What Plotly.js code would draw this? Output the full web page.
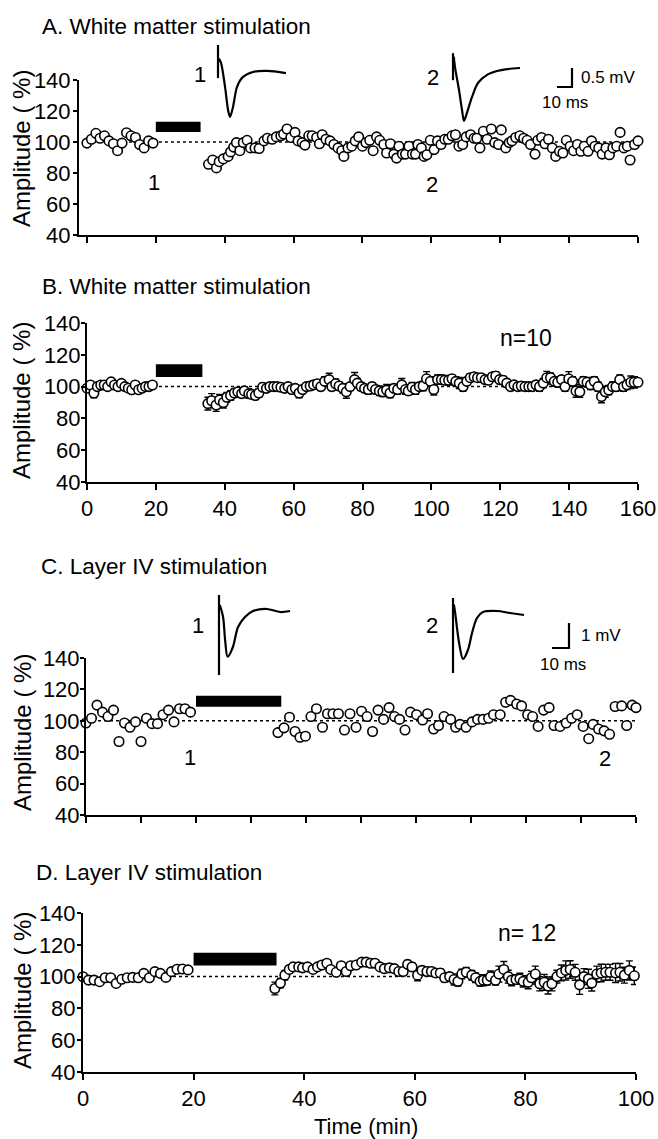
<!DOCTYPE html>
<html><head><meta charset="utf-8">
<script src="https://cdn.plot.ly/plotly-3.0.1.min.js"></script>
<style>html,body{margin:0;padding:0;background:#fff}#chart{width:658px;height:1139px}</style>
</head><body><div id="chart"></div>
<script>
// ---------- DATA ----------
// Panel A (single cell, white matter stimulation)
const aTime = [0,1.3,2.6,3.8,5.1,6.4,7.7,8.9,10.2,11.5,12.8,14.1,15.3,16.6,17.9,19.2,
35.3,36.5,37.6,38.4,39.6,41.0,41.7,42.6,43.4,44.4,
45.4,46.5,47.5,48.8,50.0,51.4,52.4,53.8,55.0,56.3,
57.1,58.1,59.2,60.4,61.3,62.5,63.3,64.4,65.4,66.7,
67.5,68.3,69.4,70.6,71.7,72.9,74.0,74.6,75.8,76.9,
77.9,78.9,80.0,81.0,82.1,83.1,84.1,85.0,86.2,87.0,
88.1,89.1,89.9,90.6,91.6,92.5,93.5,94.5,95.4,96.1,
97.1,97.9,98.7,99.7,100.8,101.8,102.8,103.9,104.9,106.0,
107.0,108.0,109.1,110.1,111.4,112.4,113.2,114.1,115.1,116.2,
117.4,118.4,119.5,120.3,121.6,122.6,123.4,124.5,125.7,126.8,
127.8,128.8,130.1,130.9,132.0,133.0,134.0,135.1,136.1,137.2,
138.2,139.2,140.3,141.3,142.4,143.4,144.4,145.5,146.5,147.5,
148.6,149.6,150.7,151.7,152.7,153.8,154.8,155.9,156.9,157.7,
159.0,160.0];
const aAmp = [99.3,101.8,105.6,102.4,104,100.7,98.9,94.4,99.3,106,104,102.9,98.4,96.2,100.7,99.3,
85.6,88.4,83.3,87.3,89.1,90.7,93.6,96.7,99.6,94.4,
99.6,101.1,96.2,96.2,95.8,100.7,102.4,101.8,103.3,104,
105.1,108.4,102.9,106.2,100.7,99.6,98,104,104,102.9,
98.9,104.7,101.8,100.7,98.4,96.2,94.4,90.7,96.2,97.3,
100.7,103.3,97.3,99.6,101.1,94.4,103.3,101.1,98.4,92.9,
98.9,92.2,89.6,97.3,92.2,92.2,97.3,92.2,92.2,98.4,
96.2,90.7,91.8,101.1,95.1,100.7,98.4,101.8,101.8,104,
104.7,97.3,98.4,103.3,104.7,102.4,102.4,96.2,106.9,101.8,
108.4,99.6,98.4,107.8,96.2,99.6,100.7,102.9,104,102.4,
101.1,98.4,92.2,101.1,102.9,98.9,101.8,96.2,90.7,94,
92.9,101.1,97.3,94.4,98.4,94,97.3,94,100.7,97.3,
96.2,92.2,96.2,91.8,96.2,97.3,106.2,96.2,97.3,88.4,
98.4,100.7];

// Panel B (mean +- SEM, n=10)
const bTime = [0,1,2,3,4,5,6,7,8,9,10,11,12,13,14,15,16,17,18,19,
35.1,36.2,37.5,38.5,39.6,40.6,41.7,42.8,43.8,44.9,
45.7,47.0,47.8,48.9,49.9,51.0,52.1,53.1,54.2,55.2,
56.3,57.4,58.4,59.5,60.5,61.6,62.6,63.7,64.8,65.8,
66.9,67.9,69.0,70.3,71.1,72.2,73.2,74.3,75.3,76.4,
77.7,78.5,79.6,80.6,81.7,82.8,83.8,84.9,85.9,87.0,
88.0,89.1,90.2,91.4,92.5,93.3,94.4,95.4,96.5,97.6,
98.6,99.7,100.7,101.8,102.9,103.9,105.0,106.0,107.1,108.1,
109.2,110.3,111.3,112.4,113.4,114.5,115.6,116.6,117.7,118.7,
119.8,120.8,121.9,123.0,124.0,125.1,126.1,127.2,128.3,129.3,
130.4,131.4,132.5,133.5,134.6,135.7,136.7,137.8,138.8,139.9,
141.0,142.0,143.1,144.1,145.2,146.2,147.3,148.4,149.4,150.5,
151.5,152.6,153.6,154.7,155.8,156.8,157.9,158.9,160.0];
const bAmp = [99,101,96,100,101,101,100,103,101,100,102,100,99,98,101,98,99,100,100,101,
89.3,91.1,88.4,91.6,90,93.3,94.4,96,96.7,95.6,
97.3,95.6,95.1,94.4,96,99.6,98.9,100,100,100,
99.6,98.9,100,98.2,98.9,96,98.2,100,100.4,101.1,
101.8,100,103.3,104.4,100,101.8,100.4,98.9,96.7,100,
104.4,102.2,100,98.9,98.2,100,98.2,97.3,96.7,97.8,
96,98.9,98.2,101.1,98.2,97.3,99.6,98.2,100,100.4,
104.9,103.3,98.2,104.4,104.4,104,104,104.9,103.3,102.2,
100,103.3,105.6,106.2,105.6,105.6,104.4,104,106.2,106.7,
104.4,104,102.2,100,101.1,100,100.4,100,100,100,
101.1,100,102.2,105.6,105.6,103.3,102.7,104.4,100,104.9,
103.3,97.3,96.7,103.3,102.7,101.1,103.3,100,93.8,96.7,
97.8,100,100,104.4,100,101.1,102.7,102.7,102.7];
const bErr = [1.5,1.5,3,1.5,1.5,1.5,1.5,1.5,1.5,1.5,1.5,1.5,1.5,1.5,1.5,1.5,1.5,1.5,1.5,1.5,
4,4.5,4,3.5,3.5,3,3,2.5,2.5,2.5,
2.5,3,2.5,2.5,2.5,2.5,2,2,2,2,
2,2,2,2.5,2,3,2.5,2,2,2.5,
2.5,2.5,3,4,2.5,3,2.5,3,4,2.5,
4.5,3,2.5,2.5,3,2.5,2.5,3,3,3.5,
3,2.5,3,4,3,2.5,3,3,2.5,3,
4.5,3,3.5,3,3,2.5,3,2.5,3,3.5,
3,2.5,2.5,2,2,2,2.5,2,2,2.5,
2.5,2.5,2.5,2.5,2,2,2,2,2,2.5,
2.5,3,3,4,3,3,3,2.5,3,4.5,
3,4,3.5,3,3,3,3,3,4,3.5,
3,3,3,3,3,3,4,3.5,3.5];

// Panel C (single cell, layer IV stimulation)
const cTime = [0,1,2,3,4,5,6,7,8,9,10,11,12,13,14,15,16,17,18,19,
34.9,36.0,37.0,38.0,38.9,39.9,40.9,41.9,43.0,43.9,
44.9,45.9,47.0,48.0,49.1,50.1,51.1,52.1,53.1,54.1,
55.1,56.1,57.0,58.0,59.0,60.1,61.2,62.1,63.2,64.1,
65.1,66.3,67.2,68.0,69.1,70.2,71.2,72.2,73.2,74.1,
75.3,76.3,77.2,78.3,79.2,80.3,81.2,82.2,83.2,84.2,
85.1,86.2,87.3,88.3,89.3,90.4,91.4,92.2,93.2,94.2,
95.2,96.2,97.4,98.3,99.3,100];
const cAmp = [98.6,101.6,110,105.5,102.7,106.8,86.8,98.6,95.9,99.3,86.8,101.6,98.2,98.2,103.9,106.8,99.3,107.7,107.7,105.5,
92.5,95.5,102.3,93.2,89.5,90.2,102.7,107.7,95.9,104.5,
104.5,104.5,94.1,104.5,95.9,106.1,102.7,93.2,106.8,100.9,
108.4,102.7,100.9,94.1,105.5,103.9,100.5,104.5,94.8,97,
102.7,100.9,95.9,97.7,95.9,99.3,100.9,100.9,101.6,103.9,
103.9,111.8,113,110.7,109.5,103.9,102.7,96.4,106.8,108.4,
97,96.4,98.6,101.6,103.9,96.4,88.6,97.7,94.8,93.6,
91.4,109.1,109.5,97,110,108.4];

// Panel D (mean +- SEM, n=12)
const dTime = [0,1,2,3,4,5,6,7,8,9,10,11,12,13,14,15,16,17,18,19,
34.7,35.7,36.5,37.3,38.0,39.0,39.7,40.6,41.6,42.4,
43.2,44.1,44.8,45.8,46.7,47.6,48.4,49.4,50.4,51.2,
52.0,52.8,53.7,54.5,55.4,56.3,57.1,57.9,58.7,59.5,
60.5,61.3,62.2,63.0,63.8,64.6,65.4,66.3,67.1,67.8,
68.5,69.3,70.3,71.0,71.8,72.4,73.1,73.7,74.6,75.2,
76.1,76.9,77.5,78.3,79.0,79.6,80.5,81.1,81.8,82.6,
83.4,84.1,84.8,85.7,86.5,87.3,88.1,89.0,89.8,90.6,
91.4,92.0,92.9,93.7,94.5,95.3,96.3,97.1,97.9,98.8,
99.7];
const dAmp = [99.9,97.8,97.8,96.8,99.3,99.3,95.7,98.3,99.3,99.5,99.3,102,99.3,103.1,102,99.5,103.1,104.6,104.8,104.2,
92.5,95.9,100.9,104.5,106.1,106.1,105.5,106.1,104.5,106.1,
107.3,108.4,104.5,102.7,106.8,103.2,106.8,107.3,109.1,109.1,
108.4,108.4,106.1,105,105.5,105,103.2,103.2,107.7,106.1,
100.9,103.9,103.2,103.2,102.3,102.3,99.3,100,98.2,97,
101.6,102.7,100.9,99.3,97,97.7,97.7,100,97.7,101.6,
104.5,100,97.7,98.2,98.6,97,96.4,99.3,101.6,95.5,
96.4,94.1,95.5,100,102.3,103.9,104.5,102.7,94.8,100,
98.6,95.9,101.6,102.3,102.7,102.7,102.3,102.7,100.9,103.9,
100.5];
const dErr = [1.5,1.5,1.5,1.5,1.5,1.5,1.5,1.5,1.5,1.5,1.5,1.5,1.5,1.5,1.5,2,1.5,1.5,1.5,1.5,
4,3,3,2.5,2,2,2,2,2,2,
2,2,2,2,2,2,2,2,2,2,
2,2,2,2.5,2.5,2.5,2,2,2.5,2.5,
3.5,2.5,2.5,2.5,2.5,2.5,2.5,2.5,3.5,3,
3,3,3,3,3,3.5,3,3.5,3,5,
5,4,3.5,3,3.5,3.5,4,4,5,4.5,
5,5,4.5,4,5,6,5.5,5,6,5,
6,5,5,5.5,5,5,6,5.5,5,6,
5.5];

// Drug application bars [start, end] (min) and their vertical extent (%)
const drugA = [20, 33], drugAY = [106.5, 113];
const drugB = [20, 33.5], drugBY = [106, 114];
const drugC = [20, 35.5], drugCY = [109, 116];
const drugD = [20, 35], drugDY = [107, 115];
const baseline = 100;

// Example EPSP traces (ms, mV)
const a1ArtT = [0, 0], a1ArtV = [0.71, -0.16];
const a1T = [0.6, 2, 4.7, 6.7, 8, 10, 12.7, 16.7, 23.3, 32.7, 45.3];
const a1V = [0.35, 0.24, -0.39, -1.0, -1.18, -0.92, -0.39, -0.13, 0, 0.03, -0.03];
const a2ArtT = [0, 0], a2ArtV = [0.39, -0.32];
const a2T = [0.5, 1.3, 4, 6, 7.3, 9.3, 12.7, 16.7, 22.7, 29.3, 36, 44.7];
const a2V = [0.3, 0.03, -0.58, -1.1, -1.39, -1.18, -0.76, -0.39, -0.18, -0.08, -0.03, 0];
const c1ArtT = [0, 0], c1ArtV = [0.6, -2.6];
const c1T = [0.5, 2.4, 3.6, 5.1, 8.2, 11.2, 15.3, 20, 28.2, 36, 41.8];
const c1V = [0.2, -0.28, -1.2, -1.87, -1.48, -0.68, -0.28, -0.04, 0.04, -0.08, -0.04];
const c2ArtT = [0, 0], c2ArtV = [0.56, -2.44];
const c2T = [0.5, 1.2, 3.5, 5.9, 8.8, 11.2, 14.1, 17.6, 25.9, 33.5, 41.8];
const c2V = [0.3, 0, -1.2, -1.88, -1.52, -0.84, -0.24, 0, 0.04, -0.04, -0.12];
// Scale bars (ms, mV)
const scaleAT = [-10, 0, 0], scaleAV = [0, 0, 0.5];
const scaleCT = [-10, 0, 0], scaleCV = [0, 0, 1];

const yTicks = [40, 60, 80, 100, 120, 140];
const xTicks160 = [0, 20, 40, 60, 80, 100, 120, 140, 160];
const xTicks100by10 = [0, 10, 20, 30, 40, 50, 60, 70, 80, 90, 100];
const xTicks100 = [0, 20, 40, 60, 80, 100];

// ---------- LAYOUT HELPERS ----------
const W = 658, H = 1139;
const FONT = 'Liberation Sans, Arial, Helvetica, sans-serif';
const fx = px => px / W;
const fy = py => 1 - py / H;

const markerStyle = {symbol: 'circle', size: 9.5, color: '#fff', line: {color: '#000', width: 1.6}};
function pts(x, y, xa, ya, err) {
  const t = {x: x, y: y, xaxis: xa, yaxis: ya, type: 'scatter', mode: 'markers',
    marker: markerStyle, cliponaxis: false, hoverinfo: 'skip'};
  if (err) t.error_y = {type: 'data', array: err, visible: true, color: '#000', thickness: 1.4, width: 3.5};
  return t;
}
function dotted(xEnd, xa, ya) {
  return {x: [0, xEnd], y: [baseline, baseline], xaxis: xa, yaxis: ya, type: 'scatter', mode: 'lines',
    line: {color: '#000', width: 1.5, dash: 'dot'}, hoverinfo: 'skip'};
}
function wave(x, y, xa, ya, spline) {
  return {x: x, y: y, xaxis: xa, yaxis: ya, type: 'scatter', mode: 'lines',
    line: {color: '#000', width: 2.2, shape: spline ? 'spline' : 'linear', smoothing: 0.9}, hoverinfo: 'skip'};
}

const data = [
  dotted(160, 'x', 'y'), pts(aTime, aAmp, 'x', 'y'),
  dotted(160, 'x2', 'y2'), pts(bTime, bAmp, 'x2', 'y2', bErr),
  dotted(100, 'x3', 'y3'), pts(cTime, cAmp, 'x3', 'y3'),
  dotted(100, 'x4', 'y4'), pts(dTime, dAmp, 'x4', 'y4', dErr),
  wave(a1ArtT, a1ArtV, 'x5', 'y5'), wave(a1T, a1V, 'x5', 'y5', true),
  wave(a2ArtT, a2ArtV, 'x6', 'y6'), wave(a2T, a2V, 'x6', 'y6', true),
  wave(scaleAT, scaleAV, 'x7', 'y7'),
  wave(c1ArtT, c1ArtV, 'x8', 'y8'), wave(c1T, c1V, 'x8', 'y8', true),
  wave(c2ArtT, c2ArtV, 'x9', 'y9'), wave(c2T, c2V, 'x9', 'y9', true),
  wave(scaleCT, scaleCV, 'x10', 'y10')
];

const axisBase = {showline: true, linecolor: '#000', linewidth: 2, ticks: 'outside', ticklen: 5,
  tickwidth: 2, tickcolor: '#000', showgrid: false, zeroline: false, fixedrange: true,
  tickfont: {family: FONT, size: 22, color: '#000'}};
function xa(d0, d1, range, ticks, labels, anchor) {
  return Object.assign({}, axisBase, {domain: [fx(d0), fx(d1)], range: range, tickmode: 'array',
    tickvals: ticks, showticklabels: labels, anchor: anchor, ticklen: 6});
}
function ya(top, bottom, anchor, standoff) {
  return Object.assign({}, axisBase, {domain: [fy(bottom), fy(top)], range: [40, 140], tickmode: 'array',
    tickvals: yTicks, anchor: anchor, ticklen: 4, ticklabelstandoff: standoff});
}
function hidden(d0, d1, range, anchor, vertical) {
  return {domain: vertical ? [fy(d1), fy(d0)] : [fx(d0), fx(d1)], range: range, anchor: anchor,
    visible: false, showgrid: false, zeroline: false, fixedrange: true};
}

function ann(text, px, py, opts) {
  return Object.assign({text: text, x: fx(px), y: fy(py), xref: 'paper', yref: 'paper', showarrow: false,
    xanchor: 'center', yanchor: 'middle', font: {family: FONT, size: 22, color: '#000'}}, opts || {});
}
const titleOpts = {xanchor: 'left', font: {family: FONT, size: 22.5, color: '#000'}};
const yTitle = {textangle: -90, font: {family: FONT, size: 24, color: '#000'}};
const smallLeft = {xanchor: 'left', font: {family: FONT, size: 17, color: '#000'}};
const small = {font: {family: FONT, size: 17, color: '#000'}};

function bar(d, yy, xr, yr) {
  return {type: 'rect', xref: xr, yref: yr, x0: d[0], x1: d[1], y0: yy[0], y1: yy[1],
    fillcolor: '#000', line: {width: 0}};
}

const layout = {
  width: W, height: H, margin: {l: 0, r: 0, t: 0, b: 0}, showlegend: false,
  paper_bgcolor: '#fff', plot_bgcolor: 'rgba(0,0,0,0)', font: {family: FONT, color: '#000'},
  xaxis: xa(79, 638, [-2.3, 160], xTicks160, false, 'y'),
  yaxis: ya(80, 235, 'x', -2),
  xaxis2: xa(87, 638, [0, 160], xTicks160, true, 'y2'),
  yaxis2: ya(323, 482, 'x2', -4),
  xaxis3: xa(86, 636, [0, 100], xTicks100by10, false, 'y3'),
  yaxis3: ya(658, 815, 'x3', -4),
  xaxis4: xa(83, 636, [0, 100], xTicks100, true, 'y4'),
  yaxis4: ya(913, 1072, 'x4', -3),
  xaxis5: hidden(210, 300, [-5.33, 54.67], 'y5'),
  yaxis5: hidden(40, 125, [-1.395, 0.842], 'x5', true),
  xaxis6: hidden(445, 535, [-5.33, 54.67], 'y6'),
  yaxis6: hidden(40, 125, [-1.5, 0.737], 'x6', true),
  xaxis7: hidden(550, 580, [-14.67, 5.33], 'y7'),
  yaxis7: hidden(60, 95, [-0.21, 0.71], 'x7', true),
  xaxis8: hidden(210, 300, [-5.29, 47.65], 'y8'),
  yaxis8: hidden(585, 685, [-3.0, 1.0], 'x8', true),
  xaxis9: hidden(445, 535, [-4.71, 48.24], 'y9'),
  yaxis9: hidden(585, 685, [-2.92, 1.08], 'x9', true),
  xaxis10: hidden(545, 580, [-14.1, 6.47], 'y10'),
  yaxis10: hidden(615, 655, [-0.28, 1.32], 'x10', true),
  shapes: [bar(drugA, drugAY, 'x', 'y'), bar(drugB, drugBY, 'x2', 'y2'),
           bar(drugC, drugCY, 'x3', 'y3'), bar(drugD, drugDY, 'x4', 'y4')],
  annotations: [
    ann('A. White matter stimulation', 40, 26, titleOpts),
    ann('B. White matter stimulation', 40, 287, titleOpts),
    ann('C. Layer IV stimulation', 39, 567, titleOpts),
    ann('D. Layer IV stimulation', 34, 872, titleOpts),
    ann('Amplitude ( %)', 22, 149, yTitle),
    ann('Amplitude ( %)', 22, 401, yTitle),
    ann('Amplitude ( %)', 22, 733, yTitle),
    ann('Amplitude ( %)', 22, 991, yTitle),
    ann('n=10', 498, 338, {xanchor: 'left', font: {family: FONT, size: 23, color: '#000'}}),
    ann('n= 12', 496, 933, {xanchor: 'left', font: {family: FONT, size: 23, color: '#000'}}),
    ann('Time (min)', 366, 1126),
    ann('1', 154, 182), ann('2', 432, 185),
    ann('1', 190, 757), ann('2', 605, 758),
    ann('1', 200, 75), ann('2', 433, 77),
    ann('1', 198, 625), ann('2', 432, 625),
    ann('0.5 mV', 579, 77, smallLeft), ann('10 ms', 565, 103, small),
    ann('1 mV', 579, 635, smallLeft), ann('10 ms', 563, 664, small)
  ]
};

Plotly.newPlot('chart', data, layout, {staticPlot: true, displayModeBar: false});
</script>
</body></html>
